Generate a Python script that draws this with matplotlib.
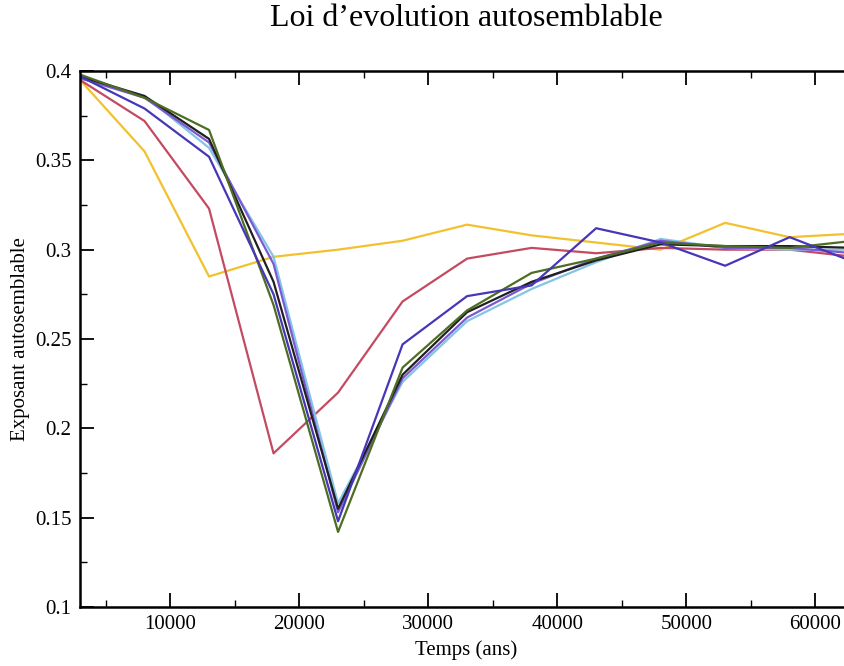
import matplotlib
matplotlib.use("Agg")
import matplotlib.pyplot as plt
from matplotlib.ticker import MultipleLocator

temps = [3000, 8000, 13000, 18000, 23000, 28000, 33000, 38000, 43000, 48000, 53000, 58000, 63000]

jaune = [0.395, 0.355, 0.285, 0.296, 0.300, 0.305, 0.314, 0.308, 0.304, 0.300, 0.315, 0.307, 0.309]
rouge = [0.395, 0.372, 0.323, 0.186, 0.220, 0.271, 0.295, 0.301, 0.298, 0.301, 0.300, 0.300, 0.296]
bleu = [0.397, 0.379, 0.352, 0.275, 0.148, 0.247, 0.274, 0.280, 0.312, 0.304, 0.291, 0.307, 0.293]
vert = [0.398, 0.385, 0.367, 0.269, 0.142, 0.234, 0.266, 0.287, 0.295, 0.304, 0.302, 0.301, 0.305]
noir = [0.397, 0.386, 0.362, 0.282, 0.155, 0.230, 0.265, 0.282, 0.294, 0.303, 0.302, 0.302, 0.301]
violet = [0.396, 0.385, 0.360, 0.292, 0.153, 0.228, 0.262, 0.281, 0.295, 0.305, 0.301, 0.301, 0.298]
cyan = [0.396, 0.386, 0.357, 0.296, 0.158, 0.226, 0.260, 0.278, 0.293, 0.306, 0.301, 0.300, 0.300]

y_ticks = [0.1, 0.15, 0.2, 0.25, 0.3, 0.35, 0.4]
y_tick_labels = ["0.1", "0.15", "0.2", "0.25", "0.3", "0.35", "0.4"]

series = [
    (jaune, "#f2c12e"),
    (rouge, "#c44a62"),
    (cyan, "#84c4e4"),
    (violet, "#7a5ad4"),
    (noir, "#202020"),
    (vert, "#4d6e22"),
    (bleu, "#4636b8"),
]

plt.rcParams['font.family'] = ['Liberation Serif', 'DejaVu Serif']

fig = plt.figure(figsize=(8.45, 6.66), dpi=100)
ax = fig.add_axes([80/845, 59/666, 800/845, 536/666])

for vals, col in series:
    ax.plot(temps, vals, color=col, lw=1.6)

ax.set_xlim(3000, 65000)
ax.set_ylim(0.1, 0.4)
ax.xaxis.set_major_locator(MultipleLocator(10000))
ax.xaxis.set_minor_locator(MultipleLocator(5000))
ax.yaxis.set_minor_locator(MultipleLocator(0.025))
ax.set_yticks(y_ticks)
ax.set_yticklabels(y_tick_labels)
ax.tick_params(which='both', direction='in', top=True, right=True, labelsize=15, color='black')
ax.tick_params(which='major', length=10, width=1.3, pad=6)
ax.tick_params(which='minor', length=5, width=1)
for s in ax.spines.values():
    s.set_linewidth(1.8)

ax.set_xlabel("Temps (ans)", fontsize=15)
ax.xaxis.set_label_coords(0.4825, -0.062)
ax.set_ylabel("Exposant autosemblable", fontsize=15)
ax.yaxis.set_label_coords(-0.062, 0.5)
fig.text(466/845, 1 - 18/666, "Loi d\u2019evolution autosemblable", ha='center', va='center', fontsize=23)

fig.savefig("out.png", dpi=100)
